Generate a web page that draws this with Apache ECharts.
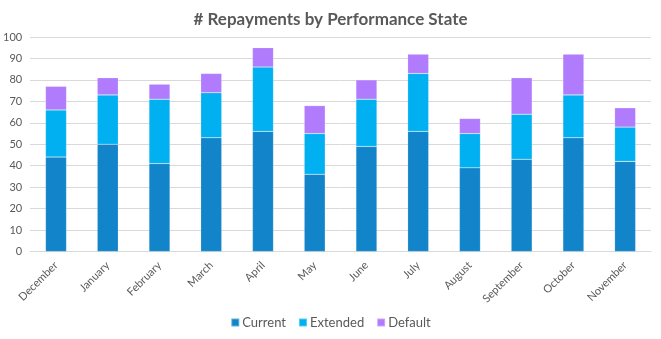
<!DOCTYPE html>
<html><head><meta charset="utf-8">
<script src="https://cdn.jsdelivr.net/npm/echarts@6/dist/echarts.min.js"></script>
<style>html,body{margin:0;padding:0;background:#fff}#c{width:661px;height:339px}</style>
</head><body><div id="c"></div>
<script>
const categories = ["December","January","February","March","April","May","June","July","August","September","October","November"];
const current = [44,50,41,53,56,36,49,56,39,43,53,42];
const extended = [22,23,30,21,30,19,22,27,16,21,20,16];
const defaulted = [11,8,7,9,9,13,9,9,7,17,19,9];
const yTicks = [0,10,20,30,40,50,60,70,80,90,100];

const chart = echarts.init(document.getElementById('c'));
const font = 'Lato';
const mk = (name, data, color) => ({
  name, type: 'bar', stack: 'total', data, barWidth: 21,
  itemStyle: {color, borderColor: 'rgba(255,255,255,0.35)', borderWidth: 0.5},
  emphasis: {disabled: true}
});
chart.setOption({
  animation: false,
  textStyle: {fontFamily: font},
  title: {text: '# Repayments by Performance State', left: 'center', top: 6,
    textStyle: {fontFamily: font, fontSize: 17, fontWeight: 'bold', color: '#595959'}},
  grid: {left: 30, right: 10, top: 37, height: 214.5, containLabel: false},
  legend: {bottom: 5, left: 'center', itemWidth: 8, itemHeight: 8, itemGap: 12, icon: 'rect',
    textStyle: {fontFamily: font, fontSize: 13, color: '#595959', padding: [0,0,0,-2]},
    data: ['Current','Extended','Default']},
  xAxis: {type: 'category', data: categories,
    axisLine: {lineStyle: {color: '#d9d9d9'}}, axisTick: {show: false},
    axisLabel: {rotate: 45, interval: 0, color: '#595959', fontSize: 11, fontFamily: font, margin: 12}},
  yAxis: {type: 'value', min: yTicks[0], max: yTicks[yTicks.length-1], interval: 10,
    axisLine: {show: false}, axisTick: {show: false},
    axisLabel: {color: '#595959', fontSize: 11, fontFamily: font, margin: 8},
    splitLine: {lineStyle: {color: '#d9d9d9'}}},
  series: [mk('Current', current, '#1184CA'), mk('Extended', extended, '#00B0F0'), mk('Default', defaulted, '#B07BFC')]
});
</script></body></html>
